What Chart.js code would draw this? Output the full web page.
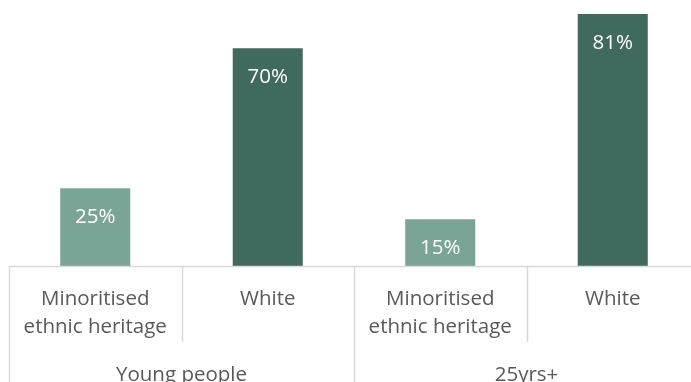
<!DOCTYPE html>
<html>
<head>
<meta charset="utf-8">
<script src="https://cdn.jsdelivr.net/npm/chart.js@4.4.1/dist/chart.umd.min.js"></script>
<style>
  html, body { margin: 0; padding: 0; background: #ffffff; overflow: hidden; }
  #wrap { width: 700px; height: 400px; }
</style>
</head>
<body>
<div id="wrap"><canvas id="chart" width="700" height="400"></canvas></div>
<script>
// Share of each group (per cent)
const categories = [
  ['Minoritised', 'ethnic heritage'],
  ['White'],
  ['Minoritised', 'ethnic heritage'],
  ['White']
];
const groups = ['Young people', '25yrs+'];
const values = [25, 70, 15, 81];
const barColors = ['#7aa596', '#416a5f', '#7aa596', '#416a5f'];

const FONT = '"Open Sans", "Liberation Sans", sans-serif';
const TEXT = '#595959';
const RULE = '#d9d9d9';

// Value labels inside the top of each bar
const valueLabels = {
  id: 'valueLabels',
  afterDatasetsDraw(chart) {
    const ctx = chart.ctx;
    const meta = chart.getDatasetMeta(0);
    ctx.save();
    ctx.font = '20.5px ' + FONT;
    ctx.fillStyle = '#ffffff';
    ctx.textAlign = 'center';
    ctx.textBaseline = 'middle';
    meta.data.forEach((bar, i) => {
      ctx.fillText(values[i] + '%', bar.x, bar.y + 29);
    });
    ctx.restore();
  }
};

// Divider lines of the two-level category axis
const axisDividers = {
  id: 'axisDividers',
  afterDraw(chart) {
    const ctx = chart.ctx;
    const x = chart.scales.x;
    const top = chart.chartArea.bottom;
    ctx.save();
    ctx.strokeStyle = RULE;
    ctx.lineWidth = 1.5;
    for (let k = 0; k <= categories.length; k++) {
      const px = Math.round(x.getPixelForValue(k - 0.5)) + 0.5;
      const bottom = (k % 2 === 0) ? chart.height : x.bottom;
      ctx.beginPath();
      ctx.moveTo(px, top);
      ctx.lineTo(px, bottom);
      ctx.stroke();
    }
    ctx.beginPath();
    ctx.moveTo(x.left, top + 0.5);
    ctx.lineTo(x.right, top + 0.5);
    ctx.stroke();
    ctx.restore();
  }
};

const tickFont = { family: FONT, size: 20.5, lineHeight: '28.5px' };

new Chart(document.getElementById('chart'), {
  type: 'bar',
  data: {
    labels: categories,
    datasets: [{
      data: values,
      backgroundColor: barColors,
      borderWidth: 0,
      barPercentage: 0.406,
      categoryPercentage: 1
    }]
  },
  options: {
    responsive: false,
    animation: false,
    devicePixelRatio: 1,
    layout: { padding: { left: 9, right: 1, top: 0, bottom: 0 } },
    plugins: { legend: { display: false }, tooltip: { enabled: false } },
    scales: {
      y: { display: false, min: 0, max: 85.5 },
      x: {
        position: 'bottom',
        weight: 0,
        grid: { display: false, drawTicks: false },
        border: { display: false },
        ticks: {
          autoSkip: false, maxRotation: 0, minRotation: 0,
          color: TEXT, padding: 18.5, font: tickFont
        },
        afterFit(scale) { scale.height = 76; }
      },
      group: {
        type: 'category',
        labels: groups,
        position: 'bottom',
        weight: 1,
        offset: true,
        grid: { display: false, drawTicks: false },
        border: { display: false },
        ticks: {
          autoSkip: false, maxRotation: 0, minRotation: 0,
          color: TEXT, padding: 19, font: tickFont
        },
        afterFit(scale) { scale.height = 58; }
      }
    }
  },
  plugins: [valueLabels, axisDividers]
});
</script>
</body>
</html>
